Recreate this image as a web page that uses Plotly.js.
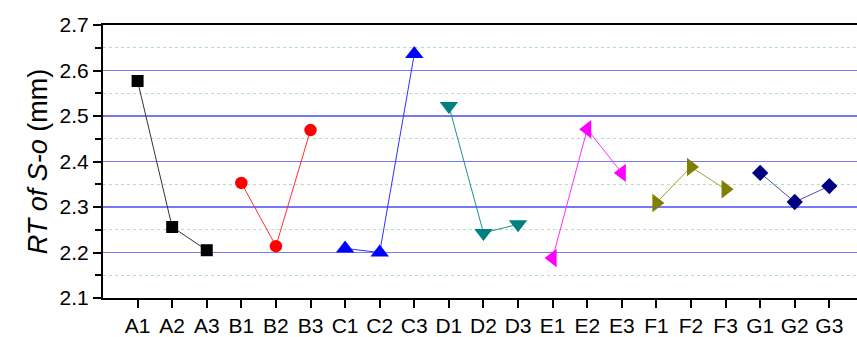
<!DOCTYPE html>
<html><head><meta charset="utf-8">
<script src="https://cdn.plot.ly/plotly-3.0.1.min.js"></script>
<style>html,body{margin:0;padding:0;background:#fff}#c{width:857px;height:337px}</style>
</head><body><div id="c"></div>
<script>
const categories = ["A1","A2","A3","B1","B2","B3","C1","C2","C3","D1","D2","D3","E1","E2","E3","F1","F2","F3","G1","G2","G3"];
const factorA = [2.577, 2.256, 2.205];
const factorB = [2.353, 2.214, 2.469];
const factorC = [2.209, 2.200, 2.636];
const factorD = [2.522, 2.243, 2.262];
const factorE = [2.188, 2.471, 2.375];
const factorF = [2.309, 2.388, 2.339];
const factorG = [2.375, 2.311, 2.346];

const groups = [
  {vals: factorA, start: 0, color: "#000000", line: "#333333", symbol: "square", size: 12},
  {vals: factorB, start: 3, color: "#ff0000", line: "#ff3030", symbol: "circle", size: 12.5},
  {vals: factorC, start: 6, color: "#0000ff", line: "#3030ff", symbol: "triangle-up", size: 16},
  {vals: factorD, start: 9, color: "#008080", line: "#209090", symbol: "triangle-down", size: 16},
  {vals: factorE, start: 12, color: "#ff00ff", line: "#ff30ff", symbol: "triangle-left", size: 16},
  {vals: factorF, start: 15, color: "#808000", line: "#a0a040", symbol: "triangle-right", size: 16},
  {vals: factorG, start: 18, color: "#000080", line: "#5050a0", symbol: "diamond", size: 12.5}
];
const traces = groups.map(g => ({
  type: "scatter", mode: "lines+markers",
  x: categories.slice(g.start, g.start + 3),
  y: g.vals,
  line: {color: g.line, width: 1},
  marker: {color: g.color, symbol: g.symbol, size: g.size},
  showlegend: false, hoverinfo: "x+y"
}));

const layout = {
  width: 857, height: 337,
  margin: {l: 103, r: 0, t: 25, b: 39},
  paper_bgcolor: "#fff", plot_bgcolor: "#fff",
  font: {family: "Liberation Sans, Arial, sans-serif", color: "#000"},
  xaxis: {
    type: "category", categoryorder: "array", categoryarray: categories,
    range: [-1, 20.8],
    showline: true, linecolor: "#000", linewidth: 2, mirror: true,
    ticks: "outside", ticklen: 8, tickwidth: 2, tickcolor: "#000",
    showgrid: false, zeroline: false,
    tickfont: {size: 21, color: "#000"}
  },
  yaxis: {
    range: [2.1, 2.7], tickmode: "linear", tick0: 2.1, dtick: 0.1, tickformat: ".1f",
    showline: true, linecolor: "#000", linewidth: 2,
    ticks: "outside", ticklen: 8, tickwidth: 2, tickcolor: "#000",
    showgrid: true, gridcolor: "#7878f4", gridwidth: 1.5, zeroline: false,
    tickfont: {size: 21, color: "#000"},
    minor: {dtick: 0.05, tick0: 2.1, ticks: "outside", ticklen: 6, tickwidth: 2, tickcolor: "#000",
            showgrid: true, gridcolor: "#b0e4b0", griddash: "dot", gridwidth: 1},
    title: {text: "<i>RT of S-o</i> (mm)", font: {size: 27, color: "#000"}, standoff: 4}
  }
};
Plotly.newPlot("c", traces, layout, {displayModeBar: false, staticPlot: true});
</script>
</body></html>
